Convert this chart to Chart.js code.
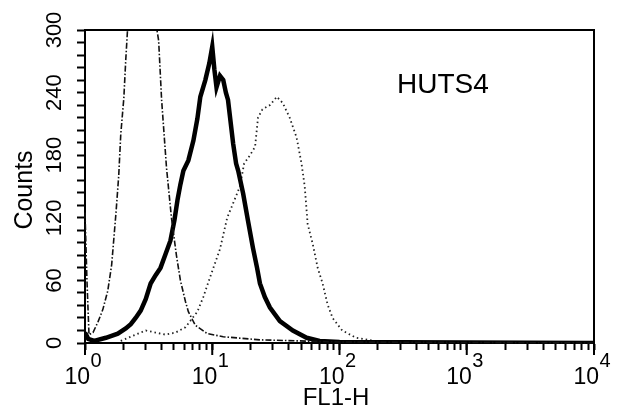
<!DOCTYPE html>
<html>
<head>
<meta charset="utf-8">
<script src="https://cdn.jsdelivr.net/npm/chart.js@4.4.1/dist/chart.umd.min.js"></script>
<style>
  html, body { margin: 0; padding: 0; background: #fff; }
  #wrap { width: 621px; height: 417px; }
</style>
</head>
<body>
<div id="wrap"><canvas id="myChart" width="621" height="417"></canvas></div>
<script>
// FL1-H channel values (log axis) and counts
var controlX = [1.0, 1.036, 1.075, 1.155, 1.263, 1.38, 1.51, 1.62, 1.75, 1.84, 1.91, 2.02, 2.09, 2.17, 2.37, 3.0, 3.46, 3.79, 4.0, 4.37, 4.78, 5.23, 5.62, 6.15, 6.49, 7.36, 9.14, 12.2, 23.7, 48.7, 100, 10000];
var controlY = [125, 60, 8, 10, 20, 32, 50, 75, 124, 160, 200, 235, 271, 305, 330, 340, 320, 290, 233, 168, 120, 84, 60, 40, 30, 17, 9, 6, 3, 2, 1, 0];

var huts4X = [1.0, 1.06, 1.18, 1.46, 1.81, 2.09, 2.29, 2.5, 2.74, 3.0, 3.28, 3.59, 3.92, 4.29, 4.69, 5.05, 5.33, 5.62, 5.93, 6.49, 7.11, 7.64, 8.06, 8.82, 9.48, 10.0, 10.4, 10.8, 11.5, 12.2, 12.8, 13.3, 14.6, 15.4, 16.0, 17.5, 19.1, 20.9, 22.5, 23.7, 25.9, 28.4, 34.0, 43.0, 55.2, 69.8, 100, 10000];
var huts4Y = [10, 4, 2, 5, 9, 14, 18, 24, 31, 42, 57, 65, 72, 85, 98, 118, 137, 152, 165, 175, 194, 215, 236, 252, 268, 284, 262, 245, 256, 252, 240, 233, 191, 172, 165, 143, 117, 91, 72, 57, 44, 34, 21, 12, 5, 2, 1, 0];

var otherX = [1.91, 2.5, 3.0, 3.59, 4.29, 5.14, 6.15, 7.0, 7.64, 8.5, 9.3, 10.2, 11.5, 13.1, 14.6, 16.5, 17.8, 19.8, 21.7, 22.9, 24.8, 28.4, 32.2, 35.8, 40.6, 46.0, 50.3, 53.3, 56.2, 61.6, 67.4, 73.7, 80.6, 88.2, 105, 135, 189, 420, 10000];
var otherY = [2, 8, 12, 10, 8, 10, 15, 24, 30, 44, 58, 72, 90, 120, 134, 150, 172, 180, 188, 216, 224, 228, 236, 230, 216, 197, 172, 150, 114, 95, 72, 57, 37, 24, 12, 5, 2, 0, 0];

var decades = [0, 1, 2, 3, 4];
var yLabels = [0, 60, 120, 180, 240, 300];

function toPoints(xs, ys) {
  return xs.map(function (x, i) { return { x: x, y: ys[i] }; });
}

var FONT = '"Liberation Sans", Arial, Helvetica, sans-serif';

var textPlugin = {
  id: "textPlugin",
  afterDraw: function (chart) {
    var ctx = chart.ctx;
    var a = chart.chartArea;
    var xs = chart.scales.x;
    var ys = chart.scales.y;
    ctx.save();
    // frame: top and right edges
    ctx.strokeStyle = "#000";
    ctx.lineWidth = 2;
    ctx.beginPath();
    ctx.moveTo(a.left - 1, a.top);
    ctx.lineTo(a.right, a.top);
    ctx.lineTo(a.right, a.bottom + 1);
    ctx.stroke();

    // longer ticks at decades
    decades.forEach(function (e) {
      var px = xs.getPixelForValue(Math.pow(10, e));
      ctx.beginPath();
      ctx.moveTo(px, a.bottom);
      ctx.lineTo(px, a.bottom + 12);
      ctx.stroke();
    });

    ctx.fillStyle = "#000";
    // x tick labels 10^n
    decades.forEach(function (e) {
      var px = xs.getPixelForValue(Math.pow(10, e));
      ctx.font = "23px " + FONT;
      ctx.textAlign = "right";
      ctx.textBaseline = "alphabetic";
      ctx.fillText("10", px + 5, 384);
      ctx.font = "20px " + FONT;
      ctx.textAlign = "left";
      ctx.fillText(String(e), px + 5.5, 367);
    });

    // y tick labels, rotated
    ctx.font = "22px " + FONT;
    ctx.textAlign = "center";
    ctx.textBaseline = "middle";
    yLabels.forEach(function (v) {
      var py = ys.getPixelForValue(v);
      ctx.save();
      ctx.translate(55, py);
      ctx.rotate(-Math.PI / 2);
      ctx.fillText(String(v), 0, 0);
      ctx.restore();
    });

    // axis titles
    ctx.save();
    ctx.font = "25px " + FONT;
    ctx.translate(25, 190);
    ctx.rotate(-Math.PI / 2);
    ctx.fillText("Counts", 0, 0);
    ctx.restore();

    ctx.font = "24px " + FONT;
    ctx.textAlign = "center";
    ctx.textBaseline = "alphabetic";
    ctx.fillText("FL1-H", 336, 405);

    ctx.font = "28px " + FONT;
    ctx.textAlign = "left";
    ctx.fillText("HUTS4", 397, 93);
    ctx.restore();
  },
};

var ctx = document.getElementById("myChart").getContext("2d");
var myChart = new Chart(ctx, {
  type: "line",
  data: {
    datasets: [
      {
        label: "control",
        data: toPoints(controlX, controlY),
        borderColor: "#111",
        borderWidth: 1.6,
        borderDash: [6, 2, 1.5, 2],
        pointRadius: 0,
        tension: 0,
        clip: 1,
      },
      {
        label: "HUTS4",
        data: toPoints(huts4X, huts4Y),
        borderColor: "#000",
        borderWidth: 4.5,
        pointRadius: 0,
        tension: 0,
        clip: 1,
      },
      {
        label: "other",
        data: toPoints(otherX, otherY),
        borderColor: "#222",
        borderWidth: 1.8,
        borderDash: [1.5, 3],
        pointRadius: 0,
        tension: 0,
        clip: 1,
      },
    ],
  },
  options: {
    responsive: false,
    animation: false,
    layout: { padding: { top: 30, right: 27, left: 0, bottom: 0 } },
    plugins: { legend: { display: false }, tooltip: { enabled: false } },
    scales: {
      x: {
        type: "logarithmic",
        min: 1,
        max: 10000,
        afterBuildTicks: function (scale) {
          var t = [];
          for (var e = 0; e < 4; e++) {
            for (var m = 1; m < 10; m++) t.push({ value: m * Math.pow(10, e) });
          }
          t.push({ value: 10000 });
          scale.ticks = t;
        },
        afterFit: function (scale) { scale.height = 74; },
        grid: { display: true, drawOnChartArea: false, drawTicks: true, tickLength: 7, tickColor: "#000", tickWidth: 2 },
        border: { display: true, color: "#000", width: 2 },
        ticks: {
          autoSkip: false,
          maxRotation: 0,
          color: "rgba(0,0,0,0)",
          callback: function (v) { return ""; },
        },
      },
      y: {
        min: 0,
        max: 300,
        afterFit: function (scale) { scale.width = 85; },
        grid: { display: true, drawOnChartArea: false, drawTicks: true, tickLength: 8, tickColor: "#000", tickWidth: 2 },
        border: { display: true, color: "#000", width: 2 },
        ticks: {
          stepSize: 12,
          autoSkip: false,
          color: "rgba(0,0,0,0)",
          callback: function (v) { return ""; },
        },
      },
    },
  },
  plugins: [textPlugin],
});
</script>
</body>
</html>
